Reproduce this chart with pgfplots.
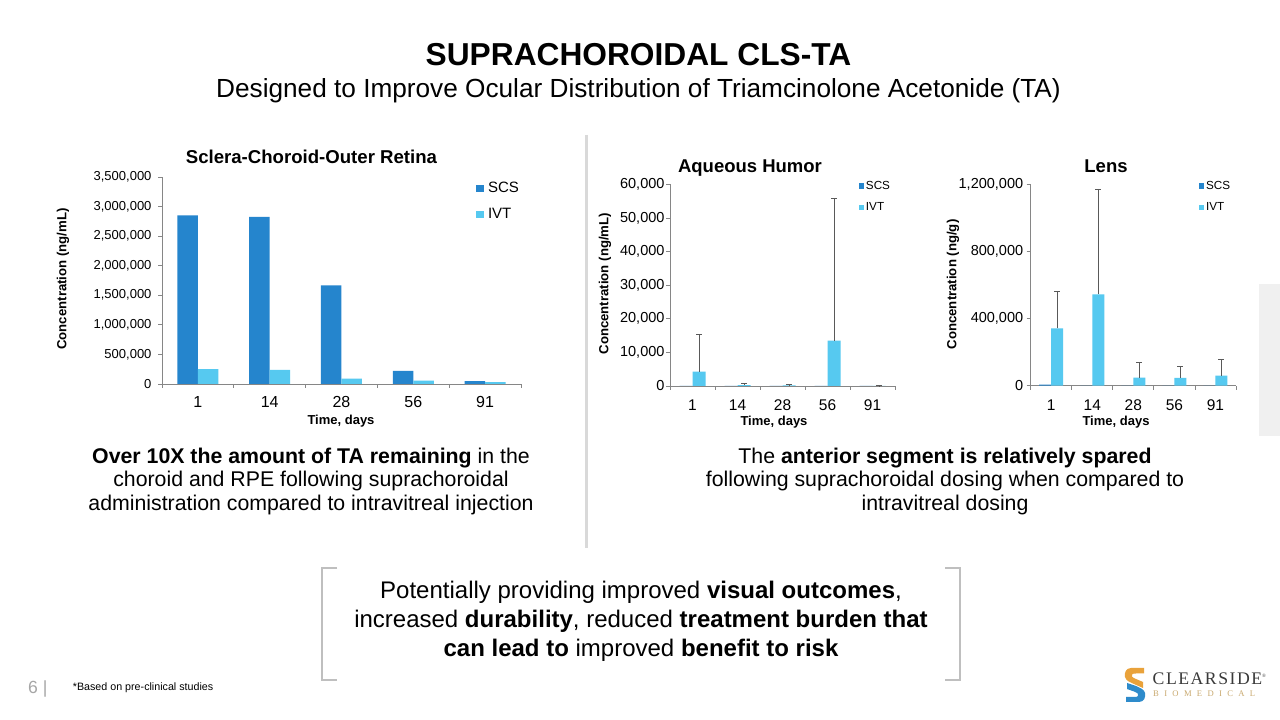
\documentclass[border=0pt]{standalone}
\usepackage{fontspec}
\setmainfont{Liberation Sans}
\newfontfamily\logoA[LetterSpace=8.5]{Liberation Serif}
\newfontfamily\logoB[LetterSpace=62]{Liberation Serif}
\usepackage{pgfplots}
\usepackage{pgfplotstable}
\pgfplotsset{compat=1.18}
\definecolor{scs}{HTML}{2585CD}
\definecolor{ivt}{HTML}{56C9F0}
\definecolor{axgray}{HTML}{868686}
\definecolor{errgray}{HTML}{595959}
\definecolor{divgray}{HTML}{D9D9D9}
\definecolor{brgray}{HTML}{BFBFBF}
\definecolor{panelgray}{HTML}{F0F0F0}
\definecolor{pagegray}{HTML}{A6A6A6}
\definecolor{logogold}{HTML}{C9A96E}
\definecolor{logoorange}{HTML}{E9A23B}
\definecolor{logoblue}{HTML}{2E8BCB}
\definecolor{logotext}{HTML}{3A3A3A}

\newcommand{\fs}[1]{\fontsize{#1}{#1}\selectfont}

\pgfplotstableread{
x scs ivt
0 2852000 253000
1 2824000 237000
2 1668000 90000
3 220000 55000
4 50000 30000
}\scortable
\pgfplotstableread{
x scs ivt err
0 60 4250 11100
1 40 250 450
2 30 150 250
3 40 13480 42200
4 20 60 80
}\aqtable
\pgfplotstableread{
x scs ivt err
0 6000 342000 218000
1 0 544600 627400
2 0 47700 89300
3 0 46000 71000
4 0 59600 97400
}\lenstable

\pgfplotsset{
  base/.style={
    scale only axis,
    axis lines*=left,
    axis line style={draw=axgray, line width=0.9pt},
    ybar=0pt,
    xmin=-0.5, xmax=4.5,
    ymin=0,
    xtick={0,1,2,3,4},
    xticklabels={1,14,28,56,91},
    major x tick style={draw=none},
    minor xtick={-0.5,0.5,1.5,2.5,3.5,4.5},
    minor tick style={draw=axgray, line width=0.8pt},
    minor tick length=4pt,
    major tick length=4pt,
    tick align=outside,
    ytick style={draw=axgray, line width=0.8pt},
    scaled y ticks=false,
    yticklabel style={/pgf/number format/fixed, /pgf/number format/1000 sep={,}},
    /pgf/number format/assume math mode=true,
    clip=false,
    legend cell align=left,
  },
  sqleg/.style={legend image code/.code={\fill[##1] (0pt,-#1) rectangle (2*#1,#1);}},
  errs/.style={
    error bars/y dir=plus,
    error bars/y explicit,
    error bars/error bar style={draw=errgray, line width=0.7pt},
    error bars/error mark options={rotate=90, draw=errgray, line width=0.7pt, mark size=3pt},
  },
}

\begin{document}
\begin{tikzpicture}
\useasboundingbox (0,0) rectangle (1280pt,720pt);
\fill[white] (0,0) rectangle (1280pt,720pt);

\begin{scope}[shift={(0pt,720pt)}, yscale=-1, x=1pt, y=1pt]
  % titles
  \node[anchor=base, inner sep=0pt] at (638.5,66) {\fs{31.7}\textbf{SUPRACHOROIDAL CLS-TA}};
  \node[anchor=base, inner sep=0pt] at (638.5,97.7) {\fs{26.2}Designed to Improve Ocular Distribution of Triamcinolone Acetonide (TA)};
  % divider
  \draw[divgray, line width=3pt] (586,135) -- (586,548);
  % right grey panel
  \fill[panelgray] (1259,284) rectangle (1280,436);
  % chart titles
  \node[anchor=base, inner sep=0pt] at (311.5,164) {\fs{18.6}\textbf{Sclera-Choroid-Outer Retina}};
  \node[anchor=base, inner sep=0pt] at (750,172.7) {\fs{18.5}\textbf{Aqueous Humor}};
  \node[anchor=base, inner sep=0pt] at (1106,172.7) {\fs{18.5}\textbf{Lens}};
  % y labels
  \node[rotate=90, inner sep=0pt] at (63,279) {\fs{13.2}\textbf{Concentration (ng/mL)}};
  \node[rotate=90, inner sep=0pt] at (605,283.7) {\fs{13.2}\textbf{Concentration (ng/mL)}};
  \node[rotate=90, inner sep=0pt] at (953,284.5) {\fs{13.2}\textbf{Concentration (ng/g)}};
  % x labels
  \node[anchor=base, inner sep=0pt] at (341,424.5) {\fs{13}\textbf{Time, days}};
  \node[anchor=base, inner sep=0pt] at (774,426) {\fs{13}\textbf{Time, days}};
  \node[anchor=base, inner sep=0pt] at (1116,426) {\fs{13}\textbf{Time, days}};
  % left body text
  \node[anchor=base, inner sep=0pt] at (311,463.5) {\fs{21.3}\textbf{Over 10X the amount of TA remaining} in the};
  \node[anchor=base, inner sep=0pt] at (311,487) {\fs{21.3}choroid and RPE following suprachoroidal};
  \node[anchor=base, inner sep=0pt] at (311,510.5) {\fs{21.3}administration compared to intravitreal injection};
  % right body text
  \node[anchor=base, inner sep=0pt] at (945,463.5) {\fs{21.3}The \textbf{anterior segment is relatively spared}};
  \node[anchor=base, inner sep=0pt] at (945,487) {\fs{21.3}following suprachoroidal dosing when compared to};
  \node[anchor=base, inner sep=0pt] at (945,510.5) {\fs{21.3}intravitreal dosing};
  % bracket box
  \draw[brgray, line width=1.5pt] (337,568) -- (322,568) -- (322,680) -- (337,680);
  \draw[brgray, line width=1.5pt] (945,568) -- (960,568) -- (960,680) -- (945,680);
  \node[anchor=base, inner sep=0pt] at (641,599) {\fs{24}Potentially providing improved \textbf{visual outcomes},};
  \node[anchor=base, inner sep=0pt] at (641,628) {\fs{24}increased \textbf{durability}, reduced \textbf{treatment burden that}};
  \node[anchor=base, inner sep=0pt] at (641,656.5) {\fs{24}\textbf{can lead to} improved \textbf{benefit to risk}};
  % footer
  \node[anchor=base west, inner sep=0pt, text=pagegray] at (28,693.3) {\fs{17.6}6 |};
  \node[anchor=base west, inner sep=0pt] at (72.7,691) {\fs{10.7}*Based on pre-clinical studies};
  % logo
  \fill[logoorange] (1144,668) -- (1131,668) .. controls (1126,668) and (1124,673) .. (1125,677)
     .. controls (1126,681) and (1130,682) .. (1134,684) -- (1143,688) -- (1143,682) -- (1136,679)
     .. controls (1132,677.5) and (1131,676) .. (1132,674.5) .. controls (1133,673.5) and (1134,673.5) .. (1136,673.5)
     -- (1144,673.5) -- cycle;
  \fill[logoblue] (1126,702) -- (1139,702) .. controls (1144,702) and (1146,697) .. (1145,693)
     .. controls (1144,689) and (1140,688) .. (1136,686) -- (1127,683) -- (1127,689) -- (1134,691.5)
     .. controls (1138,693) and (1139,694.5) .. (1138,696) .. controls (1137,697) and (1136,697) .. (1134,697)
     -- (1126,697) -- cycle;
  \node[anchor=base west, inner sep=0pt, text=logotext] at (1152.5,685) {\logoA\fs{17.7}CLEARSIDE\raisebox{7pt}{\fs{5}®}};
  \node[anchor=base west, inner sep=0pt, text=logogold] at (1153,696.7) {\logoB\fs{8.6}BIOMEDICAL};
\end{scope}

% ---------- Sclera-Choroid-Outer Retina ----------
\begin{axis}[base, at={(162pt,336pt)}, anchor=south west, width=359pt, height=207pt,
  bar width=20.5pt, ymax=3500000, ytick={0,500000,1000000,1500000,2000000,2500000,3000000,3500000},
  yticklabel style={font=\fs{13}, xshift=-3pt},
  xticklabel style={font=\fs{16}, yshift=-5pt},
  legend style={draw=none, fill=none, at={(0.875,0.985)}, anchor=north west, font=\fs{15},
    row sep=10pt, inner sep=0pt, nodes={inner xsep=4.5pt}}]
\addplot[fill=scs, draw=none, sqleg=3.6pt] table[x=x, y=scs]{\scortable};
\addplot[fill=ivt, draw=none, sqleg=3.6pt] table[x=x, y=ivt]{\scortable};
\legend{SCS,IVT}
\end{axis}

% ---------- Aqueous Humor ----------
\begin{axis}[base, at={(670pt,334pt)}, anchor=south west, width=225pt, height=201.7pt,
  bar width=13pt, ymax=60000, ytick={0,10000,20000,30000,40000,50000,60000},
  yticklabel style={font=\fs{14.5}, xshift=2pt},
  xticklabel style={font=\fs{15.5}, yshift=-6.5pt},
  legend style={draw=none, fill=none, at={(0.838,1.026)}, anchor=north west, font=\fs{11.7},
    row sep=8pt, inner sep=0pt}]
\addplot[fill=scs, draw=none, sqleg=2.6pt] table[x=x, y=scs]{\aqtable};
\addplot[fill=ivt, draw=none, sqleg=2.6pt, errs] table[x=x, y=ivt, y error=err]{\aqtable};
\legend{SCS,IVT}
\end{axis}

% ---------- Lens ----------
\begin{axis}[base, at={(1030.7pt,334.3pt)}, anchor=south west, width=205.3pt, height=201.4pt,
  bar width=12pt, ymax=1200000, ytick={0,400000,800000,1200000},
  yticklabel style={font=\fs{14.5}},
  xticklabel style={font=\fs{15.5}, yshift=-6.5pt},
  legend style={draw=none, fill=none, at={(0.818,1.026)}, anchor=north west, font=\fs{11.7},
    row sep=8pt, inner sep=0pt}]
\addplot[fill=scs, draw=none, sqleg=2.6pt] table[x=x, y=scs]{\lenstable};
\addplot[fill=ivt, draw=none, sqleg=2.6pt, errs] table[x=x, y=ivt, y error=err]{\lenstable};
\legend{SCS,IVT}
\end{axis}
\end{tikzpicture}
\end{document}
